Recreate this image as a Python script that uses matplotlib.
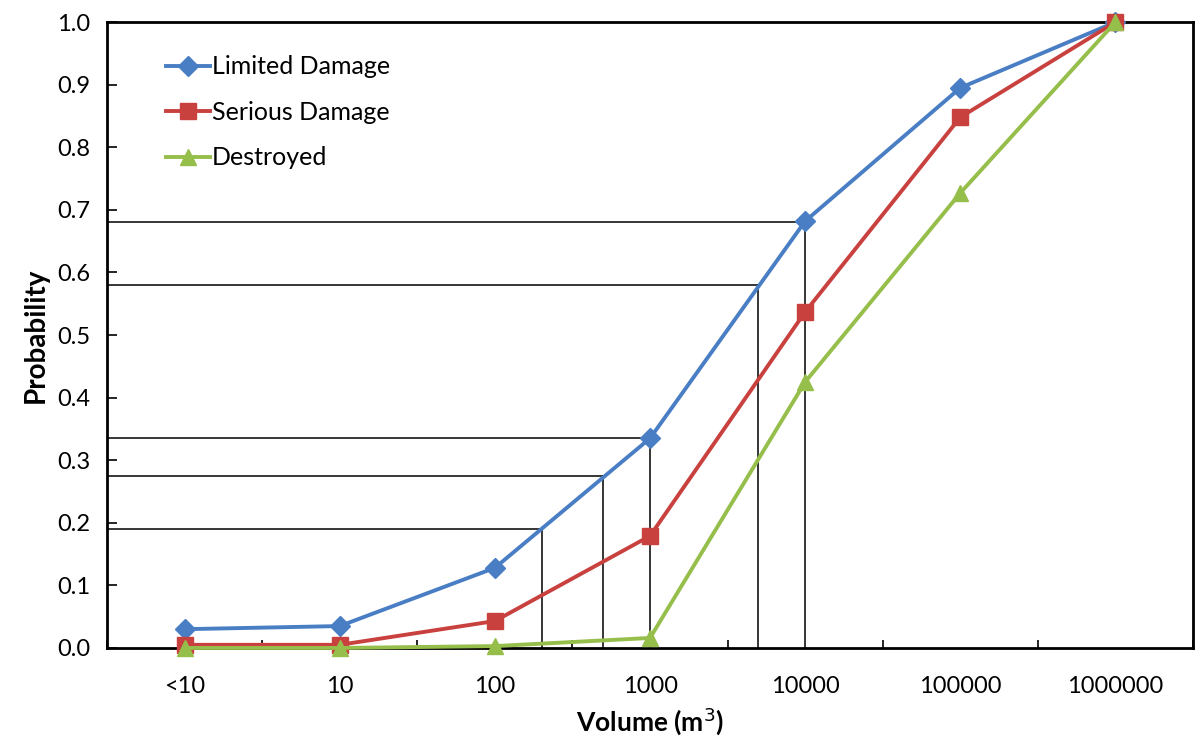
import numpy as np
import matplotlib
matplotlib.use("Agg")
import matplotlib.pyplot as plt


categories = ["<10", "10", "100", "1000", "10000", "100000", "1000000"]
limited = [0.030, 0.035, 0.128, 0.335, 0.682, 0.895, 1.0]
serious = [0.005, 0.005, 0.043, 0.179, 0.537, 0.848, 1.0]
destroyed = [0.0, 0.0, 0.003, 0.016, 0.425, 0.727, 1.0]

# reference read-off lines (volume, probability on Limited Damage curve)
ref_volumes = [200, 500, 1000, 5000, 10000]
ref_probs = [0.19, 0.275, 0.335, 0.58, 0.68]

plt.rcParams["font.family"] = ["Lato", "DejaVu Sans"]

fig = plt.figure(figsize=(11.96, 7.38), dpi=100)
ax = fig.add_axes([0.0895, 0.122, 0.908, 0.848])

x = np.arange(len(categories))
ref_x = np.log10(ref_volumes)

for rx, ry in zip(ref_x, ref_probs):
    ax.plot([-0.5, rx], [ry, ry], color="black", lw=1.1, zorder=1)
    ax.plot([rx, rx], [0, ry], color="black", lw=1.1, zorder=1)

ax.plot(x, limited, color="#4A7EC4", lw=2.8, marker="D", ms=10,
        label="Limited Damage", zorder=3, clip_on=False)
ax.plot(x, serious, color="#C9413F", lw=2.8, marker="s", ms=11,
        label="Serious Damage", zorder=3, clip_on=False)
ax.plot(x, destroyed, color="#96BE4B", lw=2.8, marker="^", ms=11,
        label="Destroyed", zorder=3, clip_on=False)

ax.set_xlim(-0.5, 6.5)
ax.set_ylim(0, 1.0)
ax.set_xticks(np.arange(-0.5, 7, 1.0))
ax.set_xticklabels([])
ax.set_xticks(x, minor=True)
ax.set_xticklabels(categories, minor=True)
ax.tick_params(axis="x", which="major", direction="in", length=6, width=1.2)
ax.tick_params(axis="x", which="minor", length=0, pad=20, labelsize=17)
ax.set_yticks(np.arange(0, 1.01, 0.1))
ax.set_yticklabels([f"{v:.1f}" for v in np.arange(0, 1.01, 0.1)])
ax.tick_params(axis="y", direction="in", length=7, width=1.2, pad=12,
               labelsize=17)

for s in ax.spines.values():
    s.set_linewidth(2)

ax.set_xlabel("Volume (m$^3$)", fontsize=19, fontweight="bold", labelpad=6)
ax.set_ylabel("Probability", fontsize=20, fontweight="bold", labelpad=6)

ax.legend(loc="upper left", bbox_to_anchor=(0.045, 0.963), frameon=False,
          fontsize=18, handlelength=1.75, handletextpad=0.1,
          labelspacing=0.9, borderaxespad=0)

fig.savefig("out.png", dpi=100)
